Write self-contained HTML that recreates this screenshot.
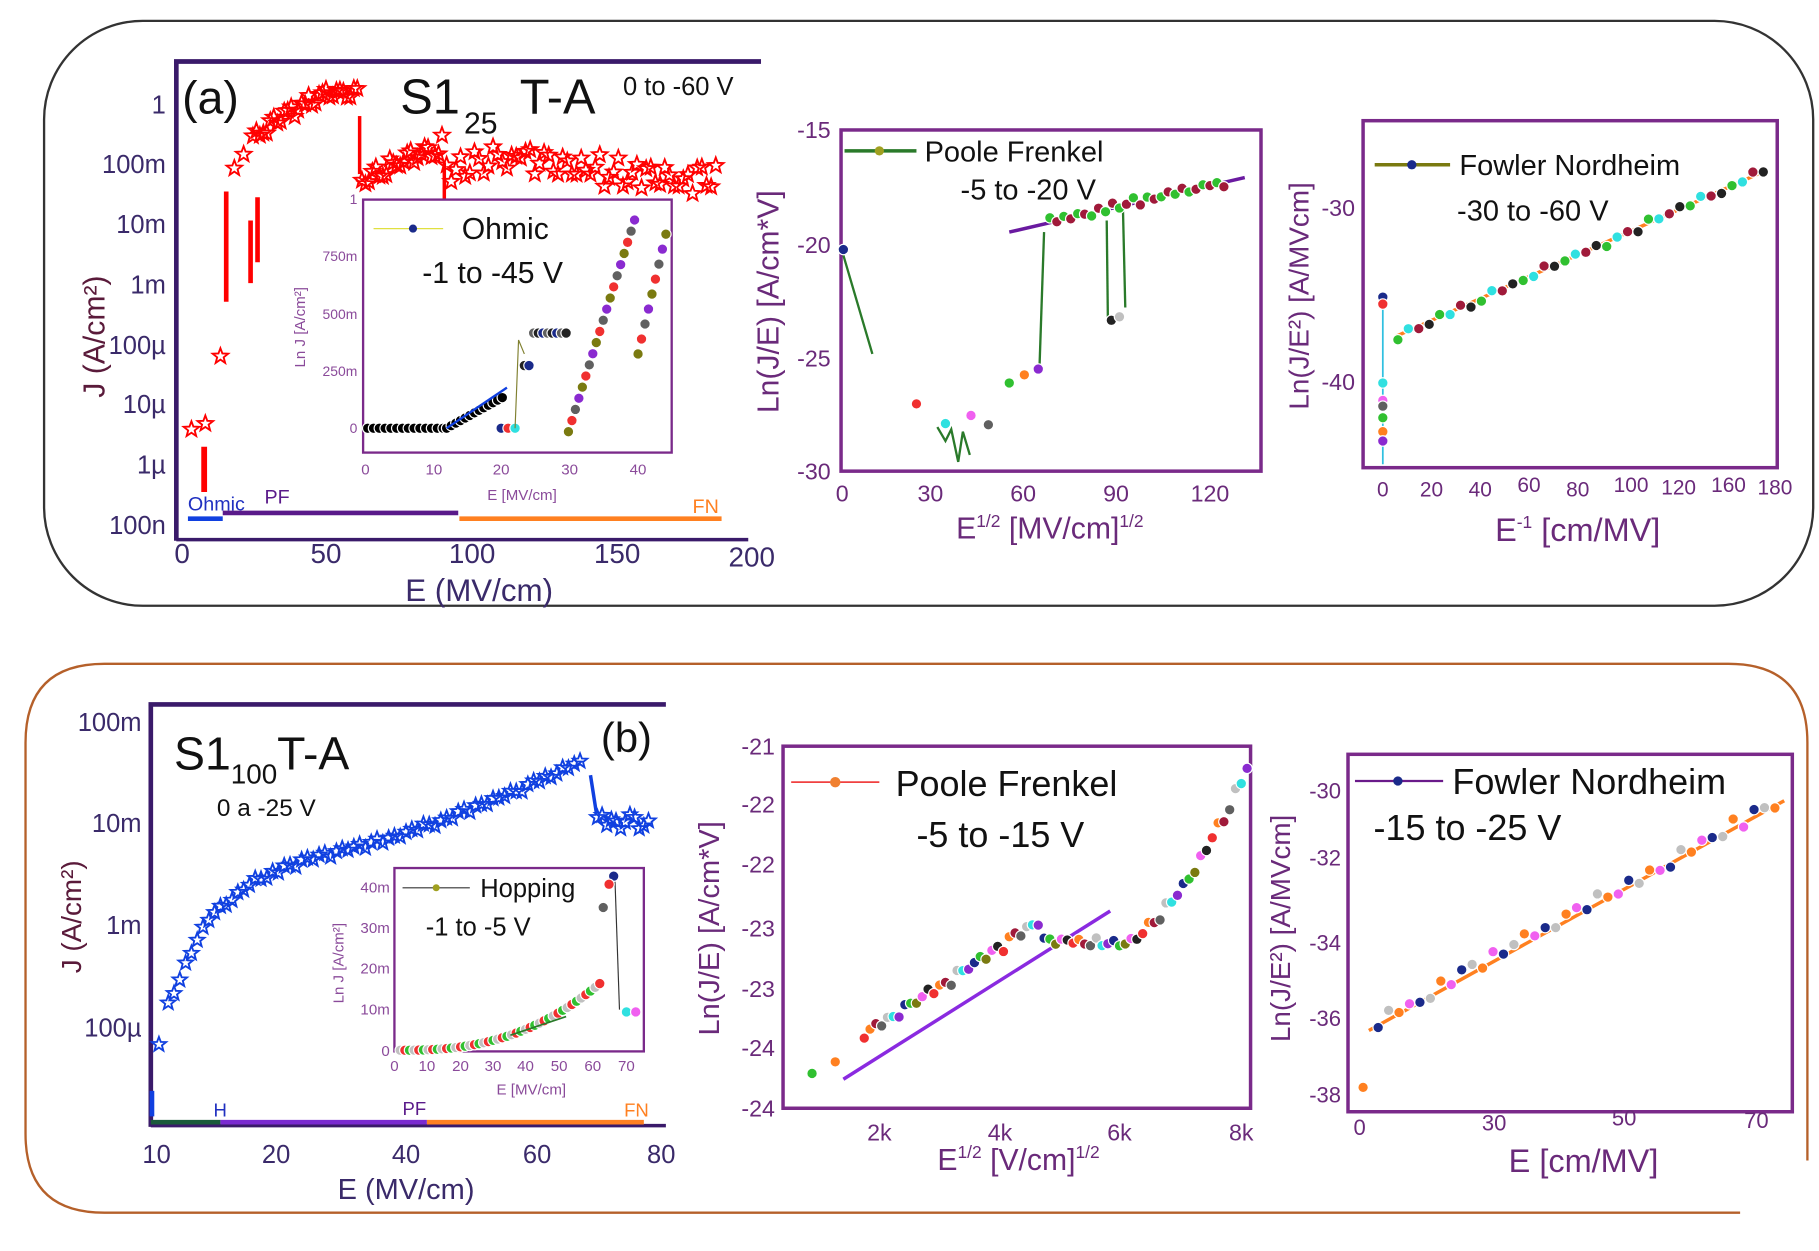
<!DOCTYPE html>
<html><head><meta charset="utf-8"><style>
html,body{margin:0;padding:0;background:#fff}
svg{display:block}
text{font-family:"Liberation Sans",sans-serif}
</style></head><body>
<svg id="s" width="1819" height="1251" viewBox="0 0 1568 1078" preserveAspectRatio="none" xmlns="http://www.w3.org/2000/svg">
<rect x="38" y="18" width="1525" height="504" rx="85" fill="none" stroke="#333" stroke-width="2"/>
<path d="M1558 1000 L1558 640 Q1558 572 1490 572 L90 572 Q22 572 22 640 L22 977 Q22 1045 90 1045 L1500 1045" fill="none" stroke="#b5602a" stroke-width="2"/>

<g stroke="#3a1a6a" fill="none">
<line x1="150" y1="53" x2="656" y2="53" stroke-width="4"/>
<line x1="152" y1="53" x2="152" y2="466" stroke-width="4"/>
<line x1="152" y1="465" x2="645" y2="465" stroke-width="3"/>
</g>
<g font-size="22" fill="#3a2a6a" text-anchor="end">
<text x="143" y="98">1</text><text x="143" y="149">100m</text><text x="143" y="201">10m</text><text x="143" y="253">1m</text><text x="143" y="305">100µ</text><text x="143" y="356">10µ</text><text x="143" y="408">1µ</text><text x="143" y="460">100n</text>
</g>
<g font-size="24" fill="#3a2a6a" text-anchor="middle">
<text x="157" y="485">0</text><text x="281" y="485">50</text><text x="407" y="485">100</text><text x="532" y="485">150</text><text x="648" y="488">200</text>
</g>
<text x="413" y="518" font-size="27" fill="#3a2a6a" text-anchor="middle">E (MV/cm)</text>
<text transform="translate(90,290) rotate(-90)" font-size="26" fill="#5a1a3a" text-anchor="middle">J (A/cm²)</text>
<text x="157" y="98" font-size="40" fill="#111">(a)</text>
<text x="345" y="98" font-size="42" fill="#111">S1</text><text x="400" y="115" font-size="26" fill="#111">25</text><text x="448" y="98" font-size="42" fill="#111">T-A</text>
<text x="537" y="82" font-size="22" fill="#111">0 to -60 V</text>
<g id="redstars"></g>
<line x1="162" y1="447" x2="192" y2="447" stroke="#1040e0" stroke-width="4"/>
<line x1="192" y1="442" x2="395" y2="442" stroke="#5a1a8a" stroke-width="4"/>
<line x1="396" y1="447" x2="622" y2="447" stroke="#ff8020" stroke-width="4"/>
<text x="162" y="440" font-size="17" fill="#2030c0">Ohmic</text>
<text x="228" y="434" font-size="17" fill="#5a1a8a">PF</text>
<text x="597" y="442" font-size="17" fill="#ff8020">FN</text>

<rect x="313" y="172" width="266" height="218" fill="#fff" stroke="#7a2a8a" stroke-width="2"/>
<g font-size="12" fill="#8a4a9a" text-anchor="end">
<text x="308" y="176">1</text><text x="308" y="225">750m</text><text x="308" y="275">500m</text><text x="308" y="324">250m</text><text x="308" y="373">0</text>
</g>
<g font-size="13" fill="#8a4a9a" text-anchor="middle">
<text x="315" y="409">0</text><text x="374" y="409">10</text><text x="432" y="409">20</text><text x="491" y="409">30</text><text x="550" y="409">40</text>
<text x="450" y="431">E [MV/cm]</text>
</g>
<text transform="translate(263,282) rotate(-90)" font-size="13" fill="#8a4a9a" text-anchor="middle">Ln J [A/cm²]</text>
<line x1="322" y1="197" x2="382" y2="197" stroke="#e0e040"/><circle cx="356" cy="197" r="3.5" fill="#1a2a8a"/>
<text x="398" y="206" font-size="26" fill="#111">Ohmic</text>
<text x="364" y="244" font-size="26" fill="#111">-1 to -45 V</text>
<g id="inA"></g>

<rect x="725" y="112" width="362" height="294" fill="none" stroke="#7a2a8a" stroke-width="3"/>
<g font-size="20" fill="#6a2a7a" text-anchor="end">
<text x="716" y="119">-15</text><text x="716" y="218">-20</text><text x="716" y="316">-25</text><text x="716" y="413">-30</text>
</g>
<g font-size="20" fill="#6a2a7a" text-anchor="middle">
<text x="726" y="432">0</text><text x="802" y="432">30</text><text x="882" y="432">60</text><text x="962" y="432">90</text><text x="1043" y="432">120</text>
</g>
<text x="905" y="464" font-size="26" fill="#6a2a7a" text-anchor="middle">E<tspan font-size="15" dy="-10">1/2</tspan><tspan dy="10"> [MV/cm]</tspan><tspan font-size="15" dy="-10">1/2</tspan></text>
<text transform="translate(671,260) rotate(-90)" font-size="26" fill="#6a2a7a" text-anchor="middle">Ln(J/E) [A/cm*V]</text>
<line x1="728" y1="130" x2="790" y2="130" stroke="#2a7a2a" stroke-width="3"/><circle cx="758" cy="130" r="4" fill="#a0a020"/>
<text x="797" y="139" font-size="25" fill="#111">Poole Frenkel</text>
<text x="828" y="172" font-size="25" fill="#111">-5 to -20 V</text>
<g id="pfA"></g>

<rect x="1175" y="104" width="357" height="299" fill="none" stroke="#7a2a8a" stroke-width="3"/>
<g font-size="20" fill="#6a2a7a" text-anchor="end">
<text x="1168" y="186">-30</text><text x="1168" y="336">-40</text>
</g>
<g font-size="18" fill="#6a2a7a" text-anchor="middle">
<text x="1192" y="428">0</text><text x="1234" y="428">20</text><text x="1276" y="428">40</text><text x="1318" y="424">60</text><text x="1360" y="428">80</text><text x="1406" y="424">100</text><text x="1447" y="426">120</text><text x="1490" y="424">160</text><text x="1530" y="426">180</text>
</g>
<text x="1360" y="466" font-size="28" fill="#6a2a7a" text-anchor="middle">E<tspan font-size="15" dy="-11">-1</tspan><tspan dy="11"> [cm/MV]</tspan></text>
<text transform="translate(1128,255) rotate(-90)" font-size="24" fill="#6a2a7a" text-anchor="middle">Ln(J/E²) [A/MVcm]</text>
<line x1="1185" y1="142" x2="1250" y2="142" stroke="#7a7a10" stroke-width="3"/><circle cx="1217" cy="142" r="4" fill="#1a2a8a"/>
<text x="1258" y="151" font-size="25" fill="#111">Fowler Nordheim</text>
<text x="1256" y="190" font-size="25" fill="#111">-30 to -60 V</text>
<g id="fnA"></g>

<g stroke="#3a1a6a" fill="none">
<line x1="128" y1="607" x2="574" y2="607" stroke-width="4"/>
<line x1="130" y1="607" x2="130" y2="971" stroke-width="4"/>
<line x1="130" y1="970" x2="574" y2="970" stroke-width="3"/>
</g>
<g font-size="22" fill="#3a2a6a" text-anchor="end">
<text x="122" y="630">100m</text><text x="122" y="717">10m</text><text x="122" y="805">1m</text><text x="122" y="893">100µ</text>
</g>
<g font-size="22" fill="#3a2a6a" text-anchor="middle">
<text x="135" y="1002">10</text><text x="238" y="1002">20</text><text x="350" y="1002">40</text><text x="463" y="1002">60</text><text x="570" y="1002">80</text>
</g>
<text x="350" y="1033" font-size="25" fill="#3a2a6a" text-anchor="middle">E (MV/cm)</text>
<text transform="translate(70,790) rotate(-90)" font-size="24" fill="#5a1a3a" text-anchor="middle">J (A/cm²)</text>
<text x="150" y="663" font-size="40" fill="#111">S1<tspan font-size="24" dy="12">100</tspan><tspan dy="-12">T-A</tspan></text>
<text x="518" y="648" font-size="36" fill="#111">(b)</text>
<text x="187" y="703" font-size="21" fill="#111">0 a -25 V</text>
<g id="bluestars"></g>
<line x1="130" y1="967" x2="190" y2="967" stroke="#1a5a3a" stroke-width="4"/>
<line x1="190" y1="967" x2="368" y2="967" stroke="#7a2ad0" stroke-width="4"/>
<line x1="368" y1="967" x2="555" y2="967" stroke="#ff8020" stroke-width="4"/>
<text x="184" y="962" font-size="16" fill="#2030c0">H</text>
<text x="347" y="961" font-size="16" fill="#5a1a8a">PF</text>
<text x="538" y="962" font-size="16" fill="#ff8020">FN</text>

<rect x="340" y="748" width="215" height="158" fill="#fff" stroke="#7a2a8a" stroke-width="2"/>
<g font-size="13" fill="#8a4a9a" text-anchor="end">
<text x="336" y="769">40m</text><text x="336" y="804">30m</text><text x="336" y="839">20m</text><text x="336" y="874">10m</text><text x="336" y="910">0</text>
</g>
<g font-size="13" fill="#8a4a9a" text-anchor="middle">
<text x="340" y="923">0</text><text x="368" y="923">10</text><text x="397" y="923">20</text><text x="425" y="923">30</text><text x="453" y="923">40</text><text x="482" y="923">50</text><text x="511" y="923">60</text><text x="540" y="923">70</text>
<text x="458" y="943">E [MV/cm]</text>
</g>
<text transform="translate(296,830) rotate(-90)" font-size="13" fill="#8a4a9a" text-anchor="middle">Ln J [A/cm²]</text>
<line x1="347" y1="765" x2="405" y2="765" stroke="#333"/><circle cx="376" cy="765" r="3" fill="#a0a020"/>
<text x="414" y="773" font-size="22" fill="#111">Hopping</text>
<text x="367" y="806" font-size="22" fill="#111">-1 to -5 V</text>
<g id="inB"></g>

<rect x="675" y="643" width="403" height="312" fill="none" stroke="#7a2a8a" stroke-width="3"/>
<g font-size="20" fill="#6a2a7a" text-anchor="end">
<text x="668" y="650">-21</text><text x="668" y="700">-22</text><text x="668" y="752">-22</text><text x="668" y="807">-23</text><text x="668" y="859">-23</text><text x="668" y="910">-24</text><text x="668" y="962">-24</text>
</g>
<g font-size="20" fill="#6a2a7a" text-anchor="middle">
<text x="758" y="983">2k</text><text x="862" y="983">4k</text><text x="965" y="983">6k</text><text x="1070" y="983">8k</text>
</g>
<text x="878" y="1008" font-size="26" fill="#6a2a7a" text-anchor="middle">E<tspan font-size="15" dy="-10">1/2</tspan><tspan dy="10"> [V/cm]</tspan><tspan font-size="15" dy="-10">1/2</tspan></text>
<text transform="translate(620,800) rotate(-90)" font-size="25" fill="#6a2a7a" text-anchor="middle">Ln(J/E) [A/cm*V]</text>
<line x1="682" y1="674" x2="758" y2="674" stroke="#f04040" stroke-width="1.5"/><circle cx="720" cy="674" r="4.5" fill="#f08030"/>
<text x="772" y="686" font-size="31" fill="#111">Poole Frenkel</text>
<text x="790" y="730" font-size="31" fill="#111">-5 to -15 V</text>
<g id="pfB"></g>

<rect x="1162" y="650" width="383" height="308" fill="none" stroke="#7a2a8a" stroke-width="3"/>
<g font-size="19" fill="#6a2a7a" text-anchor="end">
<text x="1156" y="688">-30</text><text x="1156" y="746">-32</text><text x="1156" y="819">-34</text><text x="1156" y="884">-36</text><text x="1156" y="950">-38</text>
</g>
<g font-size="19" fill="#6a2a7a" text-anchor="middle">
<text x="1172" y="978">0</text><text x="1288" y="974">30</text><text x="1400" y="970">50</text><text x="1514" y="972">70</text>
</g>
<text x="1365" y="1010" font-size="28" fill="#6a2a7a" text-anchor="middle">E [cm/MV]</text>
<text transform="translate(1112,800) rotate(-90)" font-size="24" fill="#6a2a7a" text-anchor="middle">Ln(J/E²) [A/MVcm]</text>
<line x1="1168" y1="673" x2="1244" y2="673" stroke="#6a1a8a" stroke-width="2"/><circle cx="1205" cy="673" r="4" fill="#1a2a8a"/>
<text x="1252" y="684" font-size="31" fill="#111">Fowler Nordheim</text>
<text x="1184" y="724" font-size="31" fill="#111">-15 to -25 V</text>
<g id="fnB"></g>
</svg>
<script>
var NS="http://www.w3.org/2000/svg";
function el(g,t,a){var e=document.createElementNS(NS,t);for(var k in a)e.setAttribute(k,a[k]);document.getElementById(g).appendChild(e);return e;}
function star(g,x,y,r,c){var p="";for(var i=0;i<10;i++){var a=-Math.PI/2+i*Math.PI/5,rr=i%2?r*0.42:r;p+=(i?"L":"M")+(x+rr*Math.cos(a)).toFixed(1)+" "+(y+rr*Math.sin(a)).toFixed(1);}el(g,"path",{d:p+"Z",fill:"none",stroke:c,"stroke-width":1.6});}
var cols=["#1a2a8a","#f03030","#30e0e0","#f060f0","#606060","#30c030","#ff8020","#8a2ad0","#222","#c0c0c0","#7a7a10","#a01a3a"];
function dot(g,x,y,i){el(g,"circle",{cx:x,cy:y,r:4.5,fill:cols[i%cols.length],stroke:"#fff","stroke-width":1});}
function R(n){return (Math.sin(n*12.9898)*43758.5453)%1;}
function interp(pts,x){for(var i=0;i<pts.length-1;i++){if(x<=pts[i+1][0]){var t=(x-pts[i][0])/(pts[i+1][0]-pts[i][0]);return pts[i][1]+t*(pts[i+1][1]-pts[i][1]);}}return pts[pts.length-1][1];}
var g="redstars";
el(g,"line",{x1:176,y1:385,x2:176,y2:424,stroke:"#f00","stroke-width":5});
el(g,"line",{x1:195,y1:165,x2:195,y2:260,stroke:"#f00","stroke-width":4});
el(g,"line",{x1:216,y1:190,x2:216,y2:244,stroke:"#f00","stroke-width":4});
el(g,"line",{x1:222,y1:170,x2:222,y2:226,stroke:"#f00","stroke-width":4});
el(g,"line",{x1:310,y1:100,x2:310,y2:150,stroke:"#f00","stroke-width":3});
el(g,"line",{x1:383,y1:140,x2:383,y2:180,stroke:"#f00","stroke-width":3});
[[165,370],[177,365],[190,307],[202,145],[210,133]].forEach(function(p){star(g,p[0],p[1],7,"#f00");});
for(var x=218;x<=308;x+=3){var y=118-40*Math.sin((x-218)/90*Math.PI/2)+R(x)*6;star(g,x,y,7,"#f00");}
for(var x=312;x<=382;x+=3){star(g,x,152-(x-312)*0.4+R(x)*8,7,"#f00");}
for(var x=385;x<=620;x+=4){var y=145+R(x)*15-10*Math.sin((x-385)/40);star(g,x,y,7,"#f00");}
for(var x=317;x<=382;x+=5)dot("inA",x,369,x/5);
for(var x=385;x<=433;x+=4)dot("inA",x,369-(x-385)*0.55,x/4);
[432,438,444].forEach(function(x,i){dot("inA",x,369,i);});
el("inA","line",{x1:385,y1:369,x2:437,y2:334,stroke:"#1040e0","stroke-width":2});
el("inA","polyline",{points:"444,369 447,293 452,305",fill:"none",stroke:"#808030"});
for(var x=452;x<=488;x+=4)dot("inA",x,x<460?315:287,x);
for(var x=490;x<=549;x+=3)dot("inA",x,372-(x-490)*3.2,x);
for(var x=550;x<=576;x+=3)dot("inA",x,305-(x-550)*4.3,x);
el("pfA","polyline",{points:"727,220 752,305",fill:"none",stroke:"#2a7a2a","stroke-width":2});
el("pfA","polyline",{points:"808,368 815,380 820,370 826,398 830,372 836,392",fill:"none",stroke:"#2a7a2a","stroke-width":2});
el("pfA","polyline",{points:"896,318 900,200",fill:"none",stroke:"#2a7a2a","stroke-width":2});
el("pfA","polyline",{points:"955,275 954,190",fill:"none",stroke:"#2a7a2a","stroke-width":2});
el("pfA","polyline",{points:"970,265 968,180",fill:"none",stroke:"#2a7a2a","stroke-width":2});
el("pfA","line",{x1:870,y1:200,x2:1073,y2:153,stroke:"#6a1aa0","stroke-width":3});
[[727,215],[790,348],[815,365],[837,358],[852,366],[870,330],[883,323],[895,318],[958,276],[965,273]].forEach(function(p,i){dot("pfA",p[0],p[1],i);});
for(var x=905;x<=1060;x+=6)dot("pfA",x,190-(x-905)*0.22+R(x)*4,x);
el("fnA","line",{x1:1192,y1:255,x2:1192,y2:400,stroke:"#30c0e0","stroke-width":1.5});
el("fnA","line",{x1:1203,y1:290,x2:1522,y2:147,stroke:"#ff8020","stroke-width":3});
for(var x=1205;x<=1522;x+=9)dot("fnA",x,290-(x-1205)*0.451+R(x)*4,x);
[256,262,330,345,350,360,372,380].forEach(function(y,i){dot("fnA",1192,y,i);});
var bg="bluestars";
el(bg,"line",{x1:131,y1:940,x2:131,y2:962,stroke:"#1040e0","stroke-width":4});
el(bg,"line",{x1:509,y1:668,x2:514,y2:700,stroke:"#1040e0","stroke-width":3});
var bp=[[137,900],[145,865],[160,830],[180,790],[220,758],[260,742],[300,732],[350,718],[400,700],[450,680],[495,657]];
star(bg,137,900,6.5,"#1040e0");
for(var x=145;x<=500;x+=5){star(bg,x,interp(bp,x)+R(x)*3,6.5,"#1040e0");}
for(var x=515;x<=562;x+=4)star(bg,x,708+R(x)*6,6.5,"#1040e0");
for(var x=345;x<=520;x+=4){var t=(x-345)/175;dot("inB",x,905-60*Math.pow(t,2.5),x);}
el("inB","line",{x1:440,y1:892,x2:488,y2:876,stroke:"#2a7a2a","stroke-width":1.5});
el("inB","polyline",{points:"530,755 534,870",fill:"none",stroke:"#333"});
[[529,755],[525,762],[540,872],[548,872],[520,782]].forEach(function(p,i){dot("inB",p[0],p[1],i);});
el("pfB","line",{x1:727,y1:930,x2:957,y2:785,stroke:"#8a2ae0","stroke-width":3});
[[700,925],[720,915]].forEach(function(p,i){dot("pfB",p[0],p[1],i+5);});
for(var x=745;x<=1075;x+=5){var y;if(x<900)y=893-(x-745)*0.65;else if(x<965)y=812;else y=812-Math.pow((x-965)/110,1.6)*150;dot("pfB",x,y+R(x)*5,x);}
el("fnB","line",{x1:1180,y1:888,x2:1538,y2:690,stroke:"#ff8020","stroke-width":3});
dot("fnB",1175,937,6);
for(var x=1188;x<=1535;x+=9)dot("fnB",x,880-(x-1188)*0.55+R(x)*6,x);
</script>
</body></html>
